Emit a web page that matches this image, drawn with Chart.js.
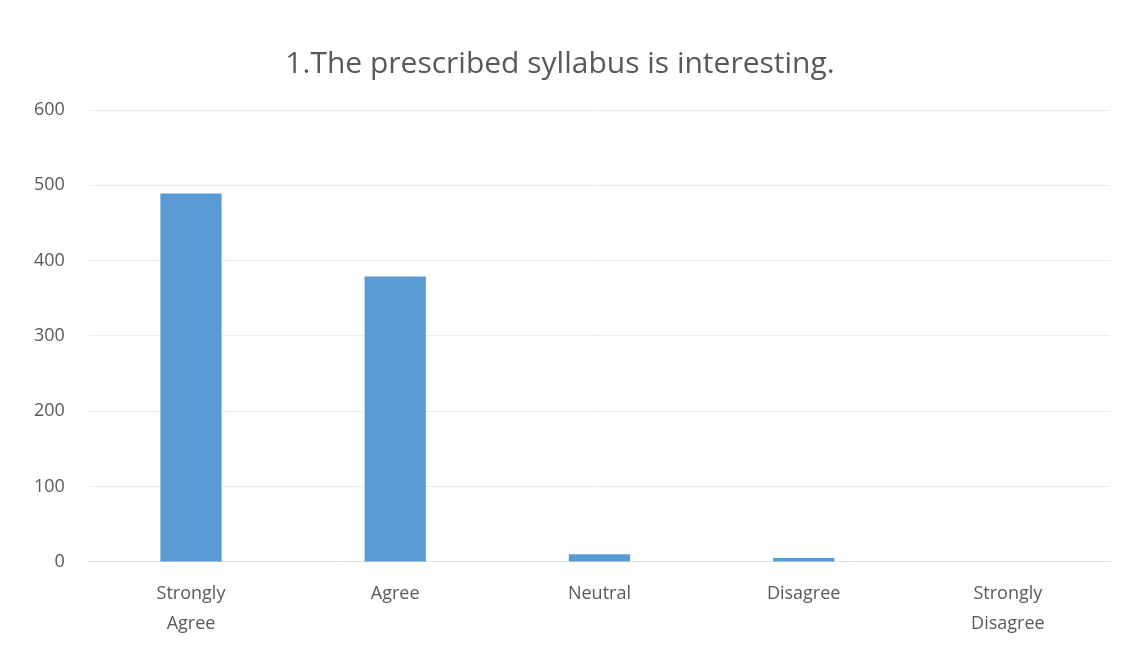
<!DOCTYPE html>
<html>
<head>
<meta charset="utf-8">
<script src="https://cdn.jsdelivr.net/npm/chart.js@4/dist/chart.umd.min.js"></script>
<style>
  html, body { margin: 0; padding: 0; background: #fff; }
  #wrap { width: 1130px; height: 650px; }
</style>
</head>
<body>
<div id="wrap"><canvas id="grafico"></canvas></div>
<script>
const categorias = [['Strongly', 'Agree'], 'Agree', 'Neutral', 'Disagree', ['Strongly', 'Disagree']];
const respostas = [489, 379, 10, 5, 0];
const ticksY = [0, 100, 200, 300, 400, 500, 600];

const ctx = document.getElementById('grafico').getContext('2d');
const grafico = new Chart(ctx, {
    type: 'bar',
    data: {
        labels: categorias,
        datasets: [{
            label: '',
            data: respostas,
            backgroundColor: '#5b9bd5',
            barPercentage: 0.3,
            categoryPercentage: 1
        }]
    },
    options: {
        responsive: true,
        maintainAspectRatio: false,
        animation: false,
        layout: {
            padding: { left: 10, right: 20, top: 46, bottom: 2 }
        },
        plugins: {
            legend: { display: false },
            tooltip: { enabled: false },
            title: {
                display: true,
                text: '1.The prescribed syllabus is interesting.',
                color: '#595959',
                font: { family: 'Open Sans', size: 30, weight: 'normal' },
                padding: { top: 0, bottom: 28 }
            }
        },
        scales: {
            x: {
                grid: { display: false },
                border: { color: '#e3e3e3' },
                ticks: {
                    color: '#595959',
                    font: { family: 'Open Sans', size: 18, lineHeight: 1.67 },
                    padding: 9,
                    maxRotation: 0
                }
            },
            y: {
                min: 0,
                max: 600,
                afterBuildTicks: axis => { axis.ticks = ticksY.map(v => ({ value: v })); },
                grid: { color: '#ececec', drawTicks: false },
                border: { display: false },
                ticks: {
                    color: '#595959',
                    font: { family: 'Open Sans', size: 18 },
                    padding: 24
                }
            }
        }
    }
});
</script>
</body>
</html>
